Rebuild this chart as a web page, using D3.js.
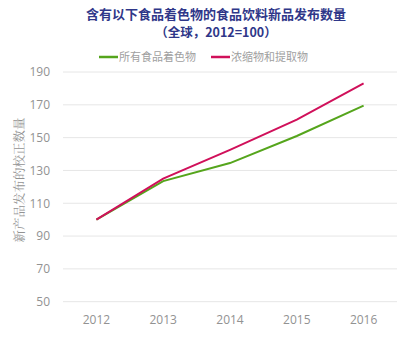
<!DOCTYPE html>
<html><head><meta charset="utf-8">
<script src="https://cdn.jsdelivr.net/npm/d3@7"></script>
<style>body{margin:0;background:#fff}svg{display:block}</style>
</head><body>
<svg id="c" width="400" height="338"></svg>
<script>
const years = ["2012","2013","2014","2015","2016"];
const allColorants = [100, 123.5, 134.5, 151, 169.5];
const concentrates = [100, 125, 142.5, 161, 183];
const yTicks = [50,70,90,110,130,150,170,190];
const seriesNames = ["所有食品着色物","浓缩物和提取物"];
const seriesColors = ["#55a51c","#d0105a"];

const svg = d3.select("#c");
const x = d3.scaleBand().domain(years).range([63,397]);
const y = d3.scaleLinear().domain([50,190]).range([301.7,72]);

svg.append("text").attr("x",216).attr("y",19).attr("text-anchor","middle")
  .attr("font-family","'Noto Sans CJK SC'").attr("font-weight","bold").attr("font-size",13)
  .attr("fill","#2f3789").text("含有以下食品着色物的食品饮料新品发布数量");
svg.append("text").attr("x",216).attr("y",37).attr("text-anchor","middle")
  .attr("font-family","'Noto Sans CJK SC'").attr("font-weight","bold").attr("font-size",12.5)
  .attr("fill","#2f3789").text("（全球，2012=100）");

// grid
svg.append("g").selectAll("line").data(yTicks).join("line")
  .attr("x1",63).attr("x2",397).attr("y1",d=>y(d)).attr("y2",d=>y(d))
  .attr("stroke","#e6e6e6").attr("stroke-width",1);

// y axis labels
const ya = svg.append("g").attr("transform","translate(50,0)")
  .call(d3.axisLeft(y).tickValues(yTicks).tickSize(0).tickPadding(0));
ya.select(".domain").remove();
ya.selectAll("text").attr("font-family","'Open Sans'").attr("font-size",12).attr("fill","#929292");

// x axis labels
const xa = svg.append("g").attr("transform","translate(0,313)")
  .call(d3.axisBottom(x).tickSize(0).tickPadding(2));
xa.select(".domain").remove();
xa.selectAll("text").attr("font-family","'Open Sans'").attr("font-size",12).attr("fill","#929292");

// y title
svg.append("text").attr("transform","translate(24,180) rotate(-90)").attr("text-anchor","middle")
  .attr("font-family","'Noto Serif CJK SC','Noto Sans CJK SC'").attr("font-size",12.5)
  .attr("fill","#929292").text("新产品发布的校正数量");

// lines
const line = d3.line().x((d,i)=>x(years[i])+x.bandwidth()/2).y(d=>y(d));
[allColorants, concentrates].forEach((s,i)=>{
  svg.append("path").datum(s).attr("d",line).attr("fill","none")
    .attr("stroke",seriesColors[i]).attr("stroke-width",2);
});

// legend
const legX = [99,211];
seriesNames.forEach((n,i)=>{
  const g = svg.append("g").attr("transform",`translate(${legX[i]},57)`);
  g.append("line").attr("x1",0).attr("x2",19).attr("y1",0).attr("y2",0)
    .attr("stroke",seriesColors[i]).attr("stroke-width",2.5);
  g.append("text").attr("x",20).attr("y",4).attr("font-family","'Noto Sans CJK SC'")
    .attr("font-size",11).attr("fill","#a0a0a0").text(n);
});
</script>
</body></html>
